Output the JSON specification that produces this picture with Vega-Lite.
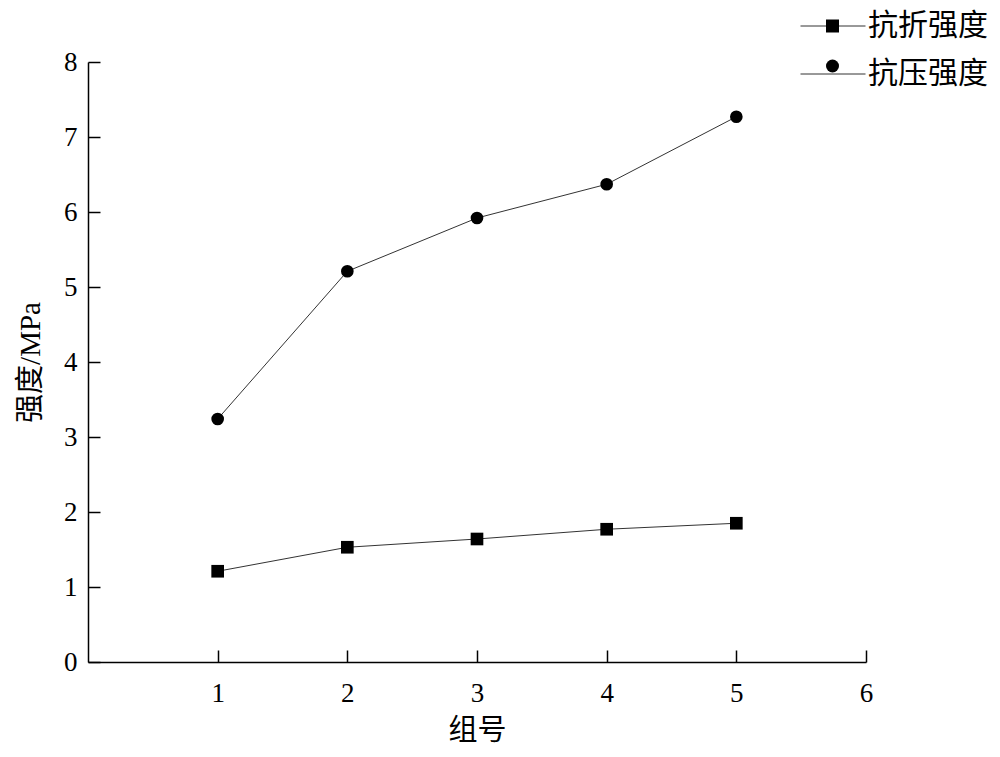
{
  "$schema": "https://vega.github.io/schema/vega-lite/v6.json",
  "width": 778,
  "height": 600,
  "autosize": {"type": "none"},
  "padding": {"left": 88, "top": 62, "right": 134, "bottom": 95},
  "background": "white",
  "config": {
    "view": {"stroke": null},
    "font": "Liberation Serif, Noto Sans CJK SC",
    "axis": {
      "grid": false,
      "domainColor": "black",
      "domainWidth": 1.5,
      "tickColor": "black",
      "tickWidth": 1.5,
      "tickSize": -12,
      "labelColor": "black",
      "labelFontSize": 27,
      "labelFont": "Liberation Serif",
      "labelFlush": false,
      "format": "d",
      "titleColor": "black",
      "titleFontSize": 29,
      "titleFontWeight": "normal",
      "titleFont": "Liberation Serif, Noto Sans CJK SC"
    }
  },
  "data": {
    "values": [
      {"group": 1, "strength": 1.21, "series": "抗折强度"},
      {"group": 2, "strength": 1.53, "series": "抗折强度"},
      {"group": 3, "strength": 1.64, "series": "抗折强度"},
      {"group": 4, "strength": 1.77, "series": "抗折强度"},
      {"group": 5, "strength": 1.85, "series": "抗折强度"},
      {"group": 1, "strength": 3.24, "series": "抗压强度"},
      {"group": 2, "strength": 5.21, "series": "抗压强度"},
      {"group": 3, "strength": 5.92, "series": "抗压强度"},
      {"group": 4, "strength": 6.37, "series": "抗压强度"},
      {"group": 5, "strength": 7.27, "series": "抗压强度"}
    ]
  },
  "layer": [
    {
      "mark": {"type": "line", "strokeWidth": 1},
      "encoding": {
        "x": {"field": "group", "type": "quantitative", "scale": {"domain": [0, 6]}},
        "y": {"field": "strength", "type": "quantitative", "scale": {"domain": [0, 8]}},
        "stroke": {
          "field": "series",
          "type": "nominal",
          "sort": null,
          "scale": {"range": ["#333333", "#333333"]},
          "legend": {
            "title": null,
            "orient": "none",
            "legendX": 712,
            "legendY": -69,
            "symbolType": "stroke",
            "symbolSize": 4225,
            "symbolStrokeWidth": 1,
            "labelFontSize": 30,
            "labelFont": "Noto Sans CJK SC",
            "labelColor": "black",
            "labelOffset": 2,
            "rowPadding": -14
          }
        }
      }
    },
    {
      "mark": {"type": "point", "filled": true, "color": "black", "opacity": 1, "size": 160},
      "encoding": {
        "x": {
          "field": "group",
          "type": "quantitative",
          "scale": {"domain": [0, 6]},
          "axis": {"values": [1, 2, 3, 4, 5, 6], "title": "组号", "labelPadding": 30, "titlePadding": 10}
        },
        "y": {
          "field": "strength",
          "type": "quantitative",
          "scale": {"domain": [0, 8]},
          "axis": {"values": [0, 1, 2, 3, 4, 5, 6, 7, 8], "title": "强度/MPa", "labelPadding": 23, "titlePadding": 18}
        },
        "shape": {
          "field": "series",
          "type": "nominal",
          "scale": {"domain": ["抗折强度", "抗压强度"], "range": ["square", "circle"]},
          "legend": {
            "title": null,
            "orient": "none",
            "legendX": 738,
            "legendY": -42.5,
            "symbolSize": 169,
            "symbolOpacity": 1,
            "symbolStrokeWidth": 0,
            "labelFontSize": 1,
            "labelExpr": "''",
            "labelColor": "transparent",
            "labelOffset": 0,
            "rowPadding": 27
          }
        }
      }
    }
  ]
}
